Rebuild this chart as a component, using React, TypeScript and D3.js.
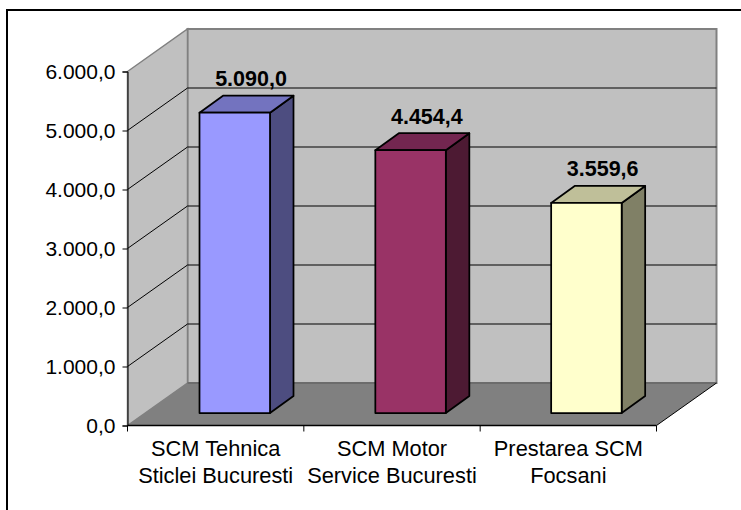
import React, { useEffect, useRef } from 'react';
import * as d3 from 'd3';

const categories = [
  ['SCM Tehnica', 'Sticlei Bucuresti'],
  ['SCM Motor', 'Service Bucuresti'],
  ['Prestarea SCM', 'Focsani'],
];
const values = [5090.0, 4454.4, 3559.6];
const valueLabels = ['5.090,0', '4.454,4', '3.559,6'];
const yTicks = [0, 1000, 2000, 3000, 4000, 5000, 6000];
const yTickLabels = ['0,0', '1.000,0', '2.000,0', '3.000,0', '4.000,0', '5.000,0', '6.000,0'];
const faceColors = ['#9999ff', '#993366', '#ffffcc'];
const topColors = ['#7373bf', '#732650', '#bfbf99'];
const sideColors = ['#4d4d80', '#4d1a33', '#808066'];

const FONT = '"Liberation Sans", Arial, sans-serif';

const App: React.FC = () => {
  const svgRef = useRef<SVGSVGElement>(null);

  useEffect(() => {
    if (!svgRef.current) return;
    const svg = d3.select(svgRef.current);
    svg.selectAll('*').remove();

    // Front plane of the 3D box
    const left = 127.5;
    const right = 656.5;
    const bottom = 425.5;
    const top = 71.5;
    const depthX = 60;
    const depthY = -42.5;

    const yScale = d3.scaleLinear().domain([0, 6000]).range([bottom, top]);
    const xScale = d3.scaleBand<number>()
      .domain(d3.range(categories.length))
      .range([left, right]);

    svg.append('rect')
      .attr('x', 7).attr('y', 10)
      .attr('width', 800).attr('height', 600)
      .attr('fill', '#ffffff')
      .attr('stroke', '#000000')
      .attr('stroke-width', 2);

    const poly = (pts: [number, number][]) => `M${pts.join('L')}Z`;

    // Back wall
    svg.append('path')
      .attr('d', poly([
        [left + depthX, top + depthY], [right + depthX, top + depthY],
        [right + depthX, bottom + depthY], [left + depthX, bottom + depthY],
      ]))
      .attr('fill', '#c0c0c0')
      .attr('stroke', '#808080')
      .attr('stroke-width', 2);

    // Side wall
    svg.append('path')
      .attr('d', poly([
        [left, top], [left + depthX, top + depthY],
        [left + depthX, bottom + depthY], [left, bottom],
      ]))
      .attr('fill', '#c0c0c0')
      .attr('stroke', '#808080')
      .attr('stroke-width', 1.5);

    // Floor
    svg.append('path')
      .attr('d', poly([
        [left, bottom], [left + depthX, bottom + depthY],
        [right + depthX, bottom + depthY], [right, bottom],
      ]))
      .attr('fill', '#808080');

    svg.append('line')
      .attr('x1', left + depthX).attr('x2', right + depthX)
      .attr('y1', bottom + depthY).attr('y2', bottom + depthY)
      .attr('stroke', '#666666')
      .attr('stroke-width', 1.5);

    svg.append('path')
      .attr('d', `M${right},${bottom}L${right + depthX},${bottom + depthY}`)
      .attr('stroke', '#000000')
      .attr('fill', 'none');

    // Grid lines
    yTicks.filter(d => d > 0 && d < 6000).forEach(d => {
      svg.append('path')
        .attr('d', `M${left},${yScale(d)}L${left + depthX},${yScale(d) + depthY}L${right + depthX},${yScale(d) + depthY}`)
        .attr('fill', 'none')
        .attr('stroke', '#000000')
        .attr('stroke-width', 1);
    });

    // Bars
    const barWidth = 70.5;
    const barDepthX = 23.5;
    const barDepthY = -17;
    const barOffsetX = 72;
    const barOffsetY = -12.5;

    values.forEach((v, i) => {
      const x0 = (xScale(i) as number) + barOffsetX - i * 0.5;
      const x1 = x0 + barWidth;
      const yb = bottom + barOffsetY;
      const yt = yScale(v) + barOffsetY;
      const g = svg.append('g')
        .attr('stroke', '#000000')
        .attr('stroke-width', 1.75)
        .attr('stroke-linejoin', 'round');

      g.append('path')
        .attr('d', poly([[x1, yt], [x1 + barDepthX, yt + barDepthY], [x1 + barDepthX, yb + barDepthY], [x1, yb]]))
        .attr('fill', sideColors[i]);
      g.append('path')
        .attr('d', poly([[x0, yt], [x0 + barDepthX, yt + barDepthY], [x1 + barDepthX, yt + barDepthY], [x1, yt]]))
        .attr('fill', topColors[i]);
      g.append('rect')
        .attr('x', x0).attr('y', yt)
        .attr('width', barWidth).attr('height', yb - yt)
        .attr('fill', faceColors[i]);

      svg.append('text')
        .attr('x', x0 + 51.5)
        .attr('y', yt + barDepthY - 9.5)
        .attr('text-anchor', 'middle')
        .attr('font-family', FONT)
        .attr('font-size', 21.5)
        .attr('font-weight', 'bold')
        .attr('fill', '#000000')
        .text(valueLabels[i]);
    });

    // Y axis
    const yAxis = d3.axisLeft(yScale)
      .tickValues(yTicks)
      .tickSize(5)
      .tickPadding(7)
      .tickFormat((_, i) => yTickLabels[i]);
    const yAxisGroup = svg.append('g')
      .attr('transform', `translate(${left},0)`)
      .call(yAxis);
    yAxisGroup.selectAll('text')
      .attr('fill', '#000000')
      .attr('font-family', FONT)
      .attr('font-size', 21);
    yAxisGroup.selectAll('.domain, .tick line').attr('stroke', '#000000');

    // X axis
    const xAxisGroup = svg.append('g');
    xAxisGroup.append('line')
      .attr('x1', left).attr('x2', right)
      .attr('y1', bottom).attr('y2', bottom)
      .attr('stroke', '#000000')
      .attr('stroke-width', 1.5);
    [...xScale.domain().map(d => xScale(d) as number), right].forEach(x => {
      xAxisGroup.append('line')
        .attr('x1', x).attr('x2', x)
        .attr('y1', bottom).attr('y2', bottom + 6)
        .attr('stroke', '#000000');
    });
    categories.forEach((lines, i) => {
      lines.forEach((line, j) => {
        xAxisGroup.append('text')
          .attr('x', (xScale(i) as number) + xScale.bandwidth() / 2)
          .attr('y', 456 + j * 26.7)
          .attr('text-anchor', 'middle')
          .attr('font-family', FONT)
          .attr('font-size', 21.8)
          .attr('fill', '#000000')
          .text(line);
      });
    });
  }, []);

  return (
    <svg
      ref={svgRef}
      width={741}
      height={510}
      style={{ position: 'absolute', left: 0, top: 0, background: '#ffffff' }}
    />
  );
};

export default App;
